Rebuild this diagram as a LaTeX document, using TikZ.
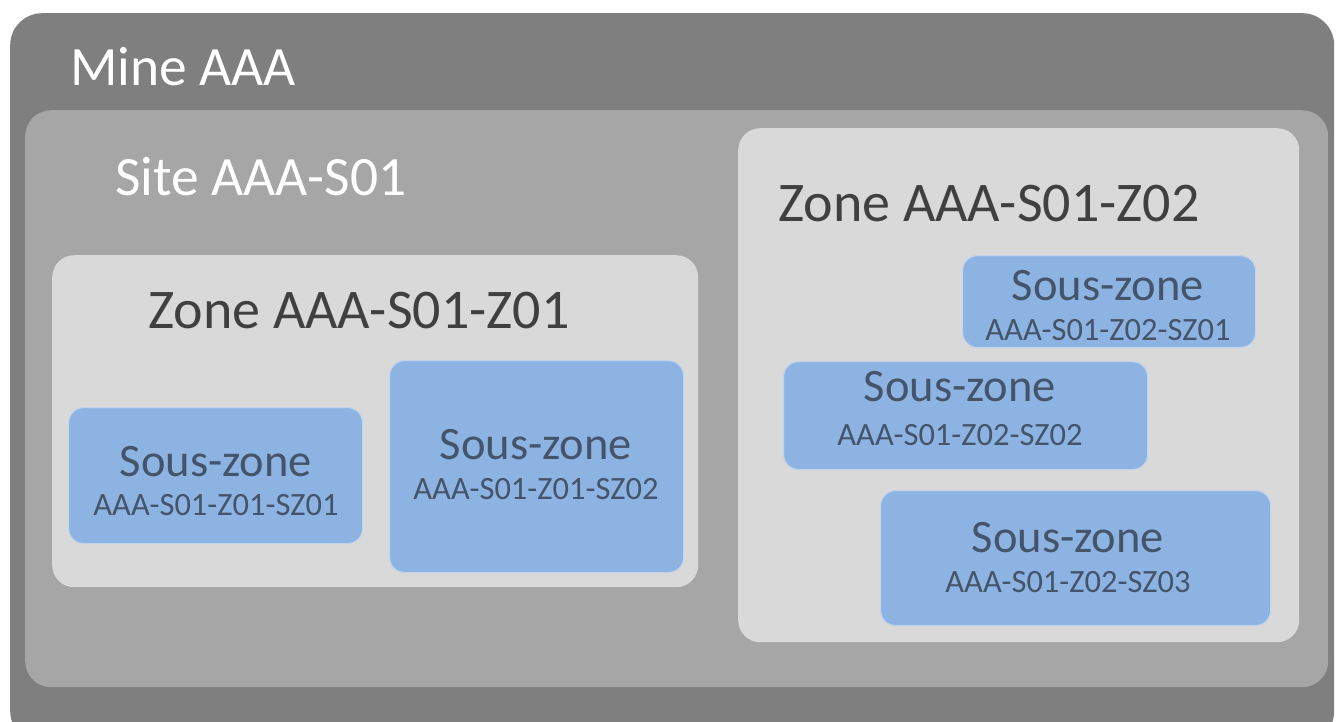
\documentclass[tikz,border=0pt]{standalone}
\usepackage{fontspec}
\setmainfont{Carlito}
\definecolor{minec}{HTML}{7F7F7F}
\definecolor{sitec}{HTML}{A6A6A6}
\definecolor{zonec}{HTML}{D9D9D9}
\definecolor{szc}{HTML}{8DB3E2}
\definecolor{szedge}{HTML}{C2D4EC}
\definecolor{zonetxt}{HTML}{404040}
\definecolor{sztxt}{HTML}{44546A}
\begin{document}
\begin{tikzpicture}[x=1pt,y=-1pt,
  area/.style={rectangle, inner sep=0pt, anchor=north west},
  minebox/.style={area, fill=minec, rounded corners=32pt},
  sitebox/.style={area, fill=sitec, rounded corners=26pt},
  zonebox/.style={area, fill=zonec, rounded corners=22pt},
  szbox/.style={area, fill=szc, draw=szedge, line width=1.2pt, rounded corners=15pt},
  bigtitle/.style={anchor=base west, inner sep=0pt, text=white, font=\fontsize{55.5}{60}\selectfont},
  zonetitle/.style={anchor=base west, inner sep=0pt, text=zonetxt, font=\fontsize{56}{60}\selectfont},
  szname/.style={anchor=base, inner sep=0pt, text=sztxt, font=\fontsize{46.5}{50}\selectfont},
  szid/.style={anchor=base, inner sep=0pt, text=sztxt, font=\fontsize{32.5}{35}\selectfont}
]
\useasboundingbox (0,0) rectangle (1336,722);
\fill[white] (0,0) rectangle (1336,722);

\node[minebox, minimum width=1324pt, minimum height=730pt] (mine) at (10,13) {};
\node[bigtitle] (minet) at (70,86) {Mine AAA};

\node[sitebox, minimum width=1303pt, minimum height=577pt] (site) at (25,110) {};
\node[bigtitle] (sitet) at (115,196) {Site AAA-S01};

% Zone Z01
\node[zonebox, minimum width=646pt, minimum height=332pt] (z1) at (52,255) {};
\node[zonetitle] (z1t) at (148,328) {Zone AAA-S01-Z01};
\node[szbox, minimum width=294pt, minimum height=136pt] (z1s1) at (68,407) {};
\node[szname] (z1s1a) at (216,476) {Sous-zone};
\node[szid] (z1s1b) at (216,515) {AAA-S01-Z01-SZ01};
\node[szbox, minimum width=294pt, minimum height=212pt] (z1s2) at (389,360) {};
\node[szname] (z1s2a) at (536,459) {Sous-zone};
\node[szid] (z1s2b) at (536,499) {AAA-S01-Z01-SZ02};

% Zone Z02
\node[zonebox, minimum width=561pt, minimum height=514pt] (z2) at (738,128) {};
\node[zonetitle] (z2t) at (778,222) {Zone AAA-S01-Z02};
\node[szbox, minimum width=293pt, minimum height=92pt] (z2s1) at (962,255) {};
\node[szname] (z2s1a) at (1108,300) {Sous-zone};
\node[szid] (z2s1b) at (1108,340) {AAA-S01-Z02-SZ01};
\node[szbox, minimum width=364pt, minimum height=108pt] (z2s2) at (783,361) {};
\node[szname] (z2s2a) at (960,401) {Sous-zone};
\node[szid] (z2s2b) at (960,445) {AAA-S01-Z02-SZ02};
\node[szbox, minimum width=390pt, minimum height=135pt] (z2s3) at (880,490) {};
\node[szname] (z2s3a) at (1068,552) {Sous-zone};
\node[szid] (z2s3b) at (1068,592) {AAA-S01-Z02-SZ03};
\end{tikzpicture}
\end{document}
